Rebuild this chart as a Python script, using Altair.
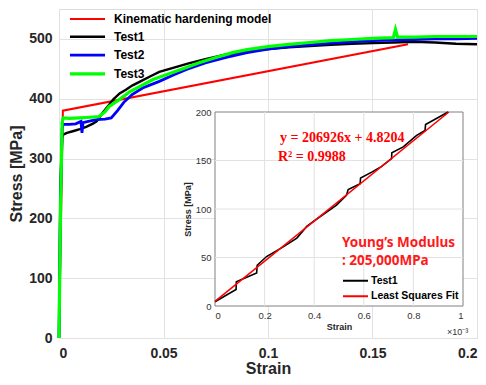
import altair as alt
import pandas as pd

FONT = "Liberation Sans"

# ---------------- main chart data ----------------
series_names = ["Kinematic hardening model", "Test1", "Test2", "Test3"]
series_colors = ["#ff0000", "#000000", "#0000ff", "#00ff00"]

kin_strain = [0.0, 0.00185, 0.167]
kin_stress = [0, 380, 491]

t1_strain = [0.0, 0.0003, 0.0006, 0.0015, 0.002, 0.0038, 0.007, 0.010, 0.013, 0.016, 0.018,
             0.021, 0.024, 0.026, 0.029, 0.032, 0.035, 0.039, 0.044, 0.048, 0.055, 0.062,
             0.070, 0.080, 0.090, 0.100, 0.110, 0.120, 0.130, 0.140, 0.150, 0.160, 0.170,
             0.180, 0.190, 0.200]
t1_stress = [0, 110, 250, 335, 340, 343, 346, 349, 353, 358, 362,
             377, 390, 399, 409, 415, 422, 429, 438, 445, 452, 459,
             466, 474, 479, 483, 486, 488, 490, 492, 493, 494, 495,
             494, 492, 491]

t2_strain = [0.0, 0.0003, 0.0008, 0.0015, 0.002, 0.005, 0.008, 0.0105, 0.011, 0.0115,
             0.014, 0.018, 0.022, 0.025, 0.028, 0.031, 0.035, 0.040, 0.048, 0.055, 0.061,
             0.070, 0.080, 0.090, 0.100, 0.110, 0.120, 0.130, 0.140, 0.150, 0.160, 0.170,
             0.180, 0.190, 0.200]
t2_stress = [0, 100, 240, 350, 357, 357, 358, 362, 343, 360,
             362, 365, 366, 368, 380, 394, 407, 418, 429, 440, 449,
             460, 469, 477, 483, 487, 490, 493, 495, 497, 498, 499,
             500, 500, 501]

t3_strain = [0.0, 0.0003, 0.0008, 0.0015, 0.002, 0.005, 0.010, 0.015, 0.019, 0.022,
             0.024, 0.029, 0.034, 0.039, 0.045, 0.052, 0.060, 0.067, 0.075, 0.083,
             0.090, 0.100, 0.110, 0.120, 0.130, 0.140, 0.150, 0.160, 0.161, 0.162,
             0.170, 0.180, 0.190, 0.200]
t3_stress = [0, 90, 230, 360, 368, 367, 368, 369, 370, 378,
             387, 399, 412, 421, 432, 441, 451, 460, 469, 477,
             482, 487, 491, 494, 497, 499, 501, 502, 516, 503,
             503, 504, 504, 504]

main_x_ticks = [0, 0.05, 0.1, 0.15, 0.2]
main_y_ticks = [0, 100, 200, 300, 400, 500]
main_y_max = 550

# ---------------- inset data ----------------
inset_series = ["Test1", "Least Squares Fit"]
inset_colors = ["#000000", "#ff0000"]

ins_strain = [0.0, 0.085, 0.086, 0.168, 0.170, 0.208, 0.275, 0.330, 0.370, 0.423,
              0.490, 0.530, 0.537, 0.585, 0.587, 0.632, 0.672, 0.712, 0.713, 0.759,
              0.813, 0.847, 0.849, 0.940]
ins_stress = [4.4, 17, 25, 34, 42, 51, 61, 70, 82, 92,
              104, 114, 120, 126, 132, 138, 144, 152, 158, 164,
              176, 181, 187, 200]

fit_strain = [0.0, 0.943]
fit_stress = [4.82, 200]

inset_x_ticks = [0, 0.2, 0.4, 0.6, 0.8, 1]
inset_y_ticks = [0, 50, 100, 150, 200]

eq_text = "y = 206926x + 4.8204"
r2_text = "R² = 0.9988"
ym_text1 = "Young’s Modulus"
ym_text2 = ": 205,000MPa"
exp_text = "×10⁻³"

# ---------------- build tables ----------------
rows = []
for name, xs, ys in zip(series_names,
                        [kin_strain, t1_strain, t2_strain, t3_strain],
                        [kin_stress, t1_stress, t2_stress, t3_stress]):
    for i, (a, b) in enumerate(zip(xs, ys)):
        rows.append({"strain": a, "stress": b, "series": name, "i": i})
main_df = pd.DataFrame(rows)

irows = []
for name, xs, ys in zip(inset_series, [ins_strain, fit_strain], [ins_stress, fit_stress]):
    for i, (a, b) in enumerate(zip(xs, ys)):
        irows.append({"x": a, "y": b, "series": name, "i": i})
ins_df = pd.DataFrame(irows)

W, H = 418, 329

main_lines = alt.Chart(main_df).mark_line().encode(
    x=alt.X("strain:Q",
            scale=alt.Scale(domain=[main_x_ticks[0], main_x_ticks[-1]], nice=False, zero=False),
            axis=alt.Axis(title="Strain", values=main_x_ticks, format="~g",
                          labelFont=FONT, labelFontSize=14, labelFontWeight="bold",
                          labelColor="#262626", titleFont=FONT, titleFontSize=16,
                          titleFontWeight="bold", titleColor="#262626",
                          grid=True, gridColor="#e2e2e2", ticks=False, domain=False,
                          labelPadding=8, titlePadding=0)),
    y=alt.Y("stress:Q",
            scale=alt.Scale(domain=[main_y_ticks[0], main_y_max], nice=False),
            axis=alt.Axis(title="Stress [MPa]", values=main_y_ticks,
                          labelFont=FONT, labelFontSize=14, labelFontWeight="bold",
                          labelColor="#262626", titleFont=FONT, titleFontSize=16,
                          titleFontWeight="bold", titleColor="#262626",
                          grid=True, gridColor="#e2e2e2", ticks=False, domain=False,
                          labelPadding=7, titlePadding=4)),
    color=alt.Color("series:N",
                    scale=alt.Scale(domain=series_names, range=series_colors),
                    sort=series_names,
                    legend=alt.Legend(title=None, orient="none", legendX=21.5, legendY=4,
                                      symbolType="M-3.5,0H3.5", symbolSize=100,
                                      symbolStrokeWidth=2, labelFont=FONT,
                                      labelFontSize=12, labelFontWeight="bold",
                                      labelColor="#000000", padding=0, rowPadding=5.3,
                                      labelOffset=19.5)),
    strokeWidth=alt.StrokeWidth("series:N",
                                scale=alt.Scale(domain=series_names, range=[2, 3.2, 3.2, 3.2]),
                                legend=None),
    order=alt.Order("i:Q"),
)

ix = alt.Scale(domain=[inset_x_ticks[0], inset_x_ticks[-1]], range=[156, 404], nice=False, zero=False)
iy = alt.Scale(domain=[inset_y_ticks[0], inset_y_ticks[-1]], range=[297, 103], nice=False)

box_df = pd.DataFrame({"x0": [inset_x_ticks[0]], "x1": [inset_x_ticks[-1]],
                       "y0": [inset_y_ticks[0]], "y1": [inset_y_ticks[-1]]})

box = alt.Chart(box_df).mark_rect(fill="white", stroke="#808080", strokeWidth=1).encode(
    x=alt.X("x0:Q", scale=ix,
            axis=alt.Axis(orient="bottom", offset=-32, title="Strain", values=inset_x_ticks,
                          format="~g", grid=False, ticks=False, domain=False, zindex=1,
                          labelFont=FONT, labelFontSize=9.5, labelColor="#333333",
                          titleFont=FONT, titleFontSize=9, titleFontWeight="bold",
                          titleColor="#262626", labelPadding=4, titlePadding=3)),
    x2="x1",
    y=alt.Y("y0:Q", scale=iy,
            axis=alt.Axis(orient="left", offset=-156, title="Stress [MPa]", values=inset_y_ticks,
                          grid=False, ticks=False, domain=False, zindex=1,
                          labelFont=FONT, labelFontSize=9.5, labelColor="#333333",
                          titleFont=FONT, titleFontSize=9, titleFontWeight="bold",
                          titleColor="#262626", labelPadding=4, titlePadding=3)),
    y2="y1",
)

xg = alt.Chart(pd.DataFrame({"x": inset_x_ticks[1:-1]})).mark_rule(
    color="#e2e2e2", strokeWidth=1).encode(
    x="x:Q", y=alt.datum(inset_y_ticks[0]), y2=alt.datum(inset_y_ticks[-1]))
yg = alt.Chart(pd.DataFrame({"y": inset_y_ticks[1:-1]})).mark_rule(
    color="#e2e2e2", strokeWidth=1).encode(
    y="y:Q", x=alt.datum(inset_x_ticks[0]), x2=alt.datum(inset_x_ticks[-1]))

ins_lines = alt.Chart(ins_df).mark_line(strokeWidth=1.6).encode(
    x="x:Q", y="y:Q",
    color=alt.Color("series:N",
                    scale=alt.Scale(domain=inset_series, range=inset_colors),
                    sort=inset_series,
                    legend=alt.Legend(title=None, orient="none", legendX=290.5, legendY=265.75,
                                      symbolType="M-2.5,0H2.5", symbolSize=100,
                                      symbolStrokeWidth=2, labelFont=FONT,
                                      labelFontSize=10.5, labelFontWeight="bold",
                                      labelColor="#000000", padding=0, rowPadding=3.5,
                                      labelOffset=9.5)),
    order=alt.Order("i:Q"),
)

def label(txt, x, y, **kw):
    return alt.Chart(pd.DataFrame({"t": [txt]})).mark_text(align="left", baseline="middle",
                                                            **kw).encode(
        x=alt.datum(x), y=alt.datum(y), text="t:N")

eq = label(eq_text, 0.262, 173, font="Liberation Serif", fontSize=14, fontWeight="bold",
           color="#ff0000")
r2 = label(r2_text, 0.254, 153.5, font="Liberation Serif", fontSize=14, fontWeight="bold",
           color="#ff0000")
ym1 = label(ym_text1, 0.512, 65, font="Noto Sans", fontSize=13.5, fontWeight="bold",
            color="#ff1a1a")
ym2 = label(ym_text2, 0.512, 46.5, font="Noto Sans", fontSize=13.5, fontWeight="bold",
            color="#ff1a1a")
expo = label(exp_text, 0.935, -26.5, font=FONT, fontSize=9, color="#333333")

inset = alt.layer(box, xg, yg, ins_lines, eq, r2, ym1, ym2, expo)

chart = alt.layer(main_lines, inset).resolve_scale(
    x="independent", y="independent", color="independent", strokeWidth="independent"
).resolve_axis(x="independent", y="independent").resolve_legend(
    color="independent"
).properties(
    width=W, height=H,
    autosize=alt.AutoSizeParams(type="none"),
    padding={"left": 51, "top": 1, "right": 1, "bottom": 39},
).configure_view(stroke="#808080", strokeWidth=1).configure(background="white")

chart.save("out.html", embed_options={"renderer": "svg", "actions": False})
